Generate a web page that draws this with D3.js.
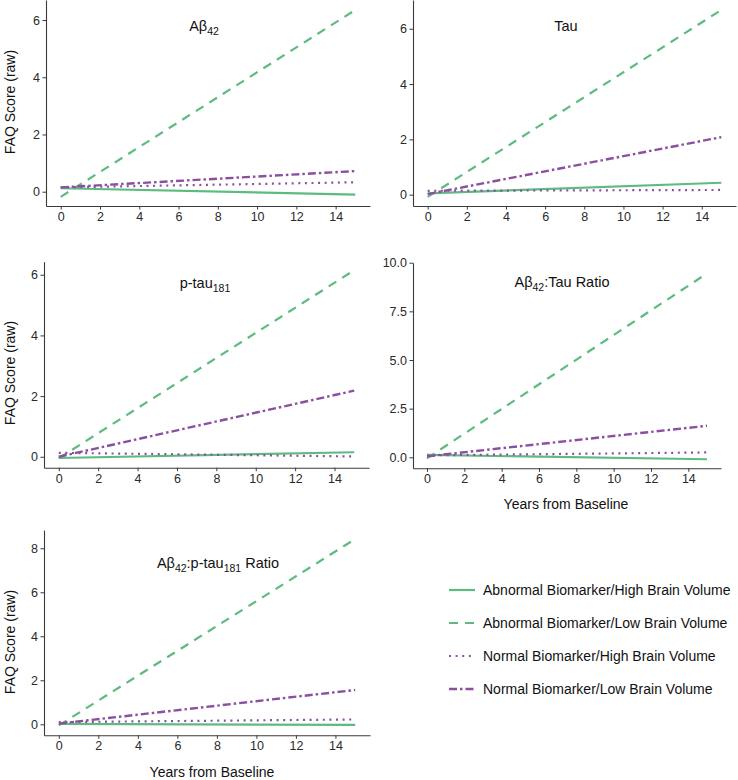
<!DOCTYPE html>
<html>
<head>
<meta charset="utf-8">
<script src="https://cdn.jsdelivr.net/npm/d3@7"></script>
<style>
  html, body { margin: 0; padding: 0; background: #fff; }
  svg { display: block; font-family: "Liberation Sans", Arial, Helvetica, sans-serif; }
</style>
</head>
<body>
<svg id="chart" width="738" height="780"></svg>
<script>
// ---------------- DATA ----------------
const years = [0, 15];
const xTicks = [0, 2, 4, 6, 8, 10, 12, 14];
const seriesNames = [
  "Abnormal Biomarker/High Brain Volume",
  "Abnormal Biomarker/Low Brain Volume",
  "Normal Biomarker/High Brain Volume",
  "Normal Biomarker/Low Brain Volume"
];
// values at years[0] and years[1], one row per series (same order as seriesNames)
const abeta42Values = [[0.12, -0.10], [-0.18, 6.35], [0.15, 0.33], [0.15, 0.72]];
const tauValues = [[0.05, 0.43], [-0.08, 6.68], [0.14, 0.17], [0.02, 2.08]];
const ptau181Values = [[-0.04, 0.15], [-0.05, 6.15], [0.13, 0.01], [0.00, 2.18]];
const abetaTauRatioValues = [[0.12, -0.10], [-0.05, 9.45], [0.10, 0.25], [0.05, 1.62]];
const abetaPtauRatioValues = [[0.02, -0.03], [-0.05, 8.42], [0.10, 0.22], [0.03, 1.56]];

const yTicks1 = [0, 2, 4, 6];
const yTicks2 = [0, 2, 4, 6];
const yTicks3 = [0, 2, 4, 6];
const yTicks4 = [0, 2.5, 5, 7.5, 10];
const yTicks5 = [0, 2, 4, 6, 8];

// title pieces: [text, isSubscript]
const title1 = [["Aβ", false], ["42", true]];
const title2 = [["Tau", false]];
const title3 = [["p-tau", false], ["181", true]];
const title4 = [["Aβ", false], ["42", true], [":Tau Ratio", false]];
const title5 = [["Aβ", false], ["42", true], [":p-tau", false], ["181", true], [" Ratio", false]];

const yAxisTitle = "FAQ Score (raw)";
const xAxisTitle = "Years from Baseline";

// ---------------- STYLE / LAYOUT ----------------
const GREEN = "#5dbb80";
const PURPLE = "#8c4fa0";
const seriesStyle = [
  { color: GREEN, dash: null, width: 2.2 },
  { color: GREEN, dash: "9,7", width: 2.2 },
  { color: PURPLE, dash: "2,4.6", width: 2.2 },
  { color: PURPLE, dash: "8,3,2.5,3", width: 2.4 }
];

const panels = [
  { values: abeta42Values, yTicks: yTicks1, yDom: [-0.5, 6.7], xr: [46, 370], yr: [206, 0], title: title1, tx: 204, ty: 31, fmt: d3.format("d"),
    yTitle: { x: 15, y: 102 } },
  { values: tauValues, yTicks: yTicks2, yDom: [-0.41, 7.04], xr: [413, 736], yr: [206, 0], title: title2, tx: 566, ty: 31, fmt: d3.format("d") },
  { values: ptau181Values, yTicks: yTicks3, yDom: [-0.36, 6.43], xr: [44, 369], yr: [467.7, 261.7], title: title3, tx: 205, ty: 288, fmt: d3.format("d"),
    yTitle: { x: 15, y: 373 } },
  { values: abetaTauRatioValues, yTicks: yTicks4, yDom: [-0.565, 10.0], xr: [413, 721], yr: [468.3, 262.7], title: title4, tx: 562, ty: 287, fmt: d3.format(".1f"),
    xTitle: { x: 566, y: 509 } },
  { values: abetaPtauRatioValues, yTicks: yTicks5, yDom: [-0.5, 8.83], xr: [44, 370], yr: [735.3, 530], title: title5, tx: 218, ty: 568, fmt: d3.format("d"),
    yTitle: { x: 15, y: 642 }, xTitle: { x: 212, y: 777 } }
];

const svg = d3.select("#chart");

panels.forEach(p => {
  const x = d3.scaleLinear().domain([-0.75, 15.75]).range(p.xr);
  const y = d3.scaleLinear().domain(p.yDom).range(p.yr);
  const g = svg.append("g");

  // axes
  const xAxis = d3.axisBottom(x).tickValues(xTicks).tickSize(3.5).tickSizeOuter(0).tickPadding(2.5).tickFormat(d3.format("d"));
  const yAxis = d3.axisLeft(y).tickValues(p.yTicks).tickSize(3.5).tickSizeOuter(0).tickPadding(2.5).tickFormat(p.fmt);

  const gx = g.append("g").attr("transform", `translate(0,${p.yr[0]})`).call(xAxis);
  const gy = g.append("g").attr("transform", `translate(${p.xr[0]},0)`).call(yAxis);
  [gx, gy].forEach(a => {
    a.select(".domain").attr("stroke", "#3a3a3a").attr("stroke-width", 1.1);
    a.selectAll(".tick line").attr("stroke", "#3a3a3a").attr("stroke-width", 1);
    a.selectAll(".tick text").attr("fill", "#2a2a2a").attr("font-size", 12.5)
      .attr("font-family", "'Liberation Sans', Arial, Helvetica, sans-serif");
  });

  // lines
  const line = d3.line().x(d => x(d[0])).y(d => y(d[1]));
  p.values.forEach((vals, i) => {
    const pts = years.map((yr, k) => [yr, vals[k]]);
    const st = seriesStyle[i];
    g.append("path")
      .datum(pts)
      .attr("d", line)
      .attr("fill", "none")
      .attr("stroke", st.color)
      .attr("stroke-width", st.width)
      .attr("stroke-dasharray", st.dash)
      .attr("stroke-linecap", "butt");
  });

  // title
  const t = g.append("text")
    .attr("x", p.tx).attr("y", p.ty)
    .attr("text-anchor", "middle")
    .attr("font-size", 14.5)
    .attr("fill", "#111");
  let shifted = false;
  p.title.forEach(([txt, sub]) => {
    const ts = t.append("tspan").text(txt);
    if (sub && !shifted) { ts.attr("dy", 4).attr("font-size", 10.5); shifted = true; }
    else if (sub) { ts.attr("font-size", 10.5); }
    else if (!sub && shifted) { ts.attr("dy", -4); shifted = false; }
  });

  if (p.yTitle) {
    g.append("text")
      .attr("transform", `translate(${p.yTitle.x},${p.yTitle.y}) rotate(-90)`)
      .attr("text-anchor", "middle")
      .attr("font-size", 14)
      .attr("fill", "#111")
      .text(yAxisTitle);
  }
  if (p.xTitle) {
    g.append("text")
      .attr("x", p.xTitle.x).attr("y", p.xTitle.y)
      .attr("text-anchor", "middle")
      .attr("font-size", 14)
      .attr("fill", "#111")
      .text(xAxisTitle);
  }
});

// legend
const legend = svg.append("g");
const legendY = d3.scalePoint().domain(seriesNames).range([590, 689]);
seriesNames.forEach((name, i) => {
  const st = seriesStyle[i];
  const yy = legendY(name);
  legend.append("line")
    .attr("x1", 449).attr("x2", 475).attr("y1", yy).attr("y2", yy)
    .attr("stroke", st.color).attr("stroke-width", st.width)
    .attr("stroke-dasharray", st.dash);
  legend.append("text")
    .attr("x", 483).attr("y", yy).attr("dy", "0.36em")
    .attr("font-size", 14)
    .attr("fill", "#111")
    .text(name);
});
</script>
</body>
</html>
